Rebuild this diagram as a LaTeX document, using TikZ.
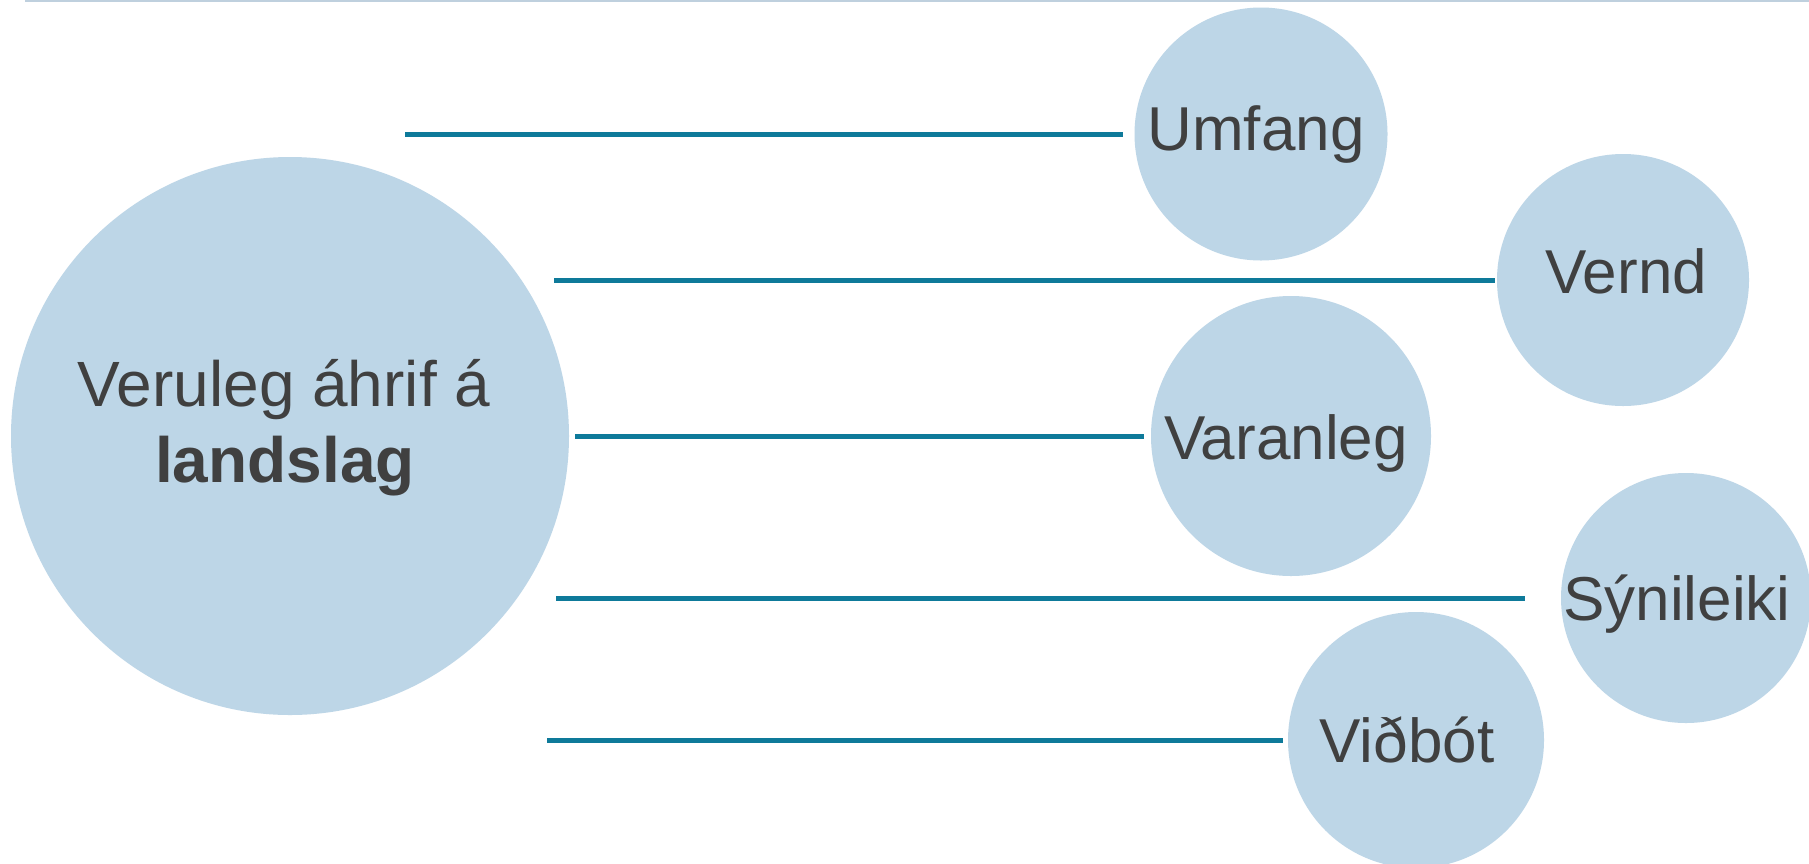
\documentclass[tikz,border=0pt]{standalone}
\usepackage{fontspec}
\setmainfont{Liberation Sans}
\definecolor{bub}{HTML}{BDD6E7}
\definecolor{ln}{HTML}{0E7A9A}
\definecolor{txt}{HTML}{404040}
\definecolor{topln}{HTML}{BFD0DE}
\begin{document}
\begin{tikzpicture}[x=1pt,y=-1pt,
  bubble/.style={circle,fill=bub,draw=none,inner sep=0pt,minimum size=#1},
  lbl/.style={text=txt,font=\fontsize{62}{74}\selectfont,inner sep=0pt,anchor=base},
  biglbl/.style={text=txt,font=\fontsize{64}{76}\selectfont,inner sep=0pt,anchor=base},
  conn/.style={draw=ln,line width=5pt}]
\useasboundingbox (0,0) rectangle (1809,863);
\fill[white] (0,0) rectangle (1809,863);
\coordinate (t0) at (25,1);
\coordinate (t1) at (1809,1);
\draw[topln,line width=2pt] (t0) -- (t1);
% big circle
\node[bubble=558pt] (main) at (290,436) {};
\node[biglbl] (maintxta) at (284,406) {Veruleg áhrif á};
\node[biglbl] (maintxtb) at (285,482) {\textbf{landslag}};
% satellites
\node[bubble=253pt] (umf) at (1261,134) {};
\node[lbl] (umft) at (1256,150) {Umfang};
\node[bubble=252pt] (ver) at (1623,280) {};
\node[lbl] (vert) at (1626,293) {Vernd};
\node[bubble=280pt] (var) at (1291,436) {};
\node[lbl] (vart) at (1286,459) {Varanleg};
\node[bubble=250pt] (syn) at (1686,598) {};
\node[lbl] (synt) at (1677,620) {Sýnileiki};
\node[bubble=256pt] (vid) at (1416,740) {};
\node[lbl] (vidt) at (1407,762) {Viðbót};
% connectors
\coordinate (s1) at (405,134);
\coordinate (s2) at (554,280);
\coordinate (s3) at (575,436);
\coordinate (s4) at (556,598);
\coordinate (s5) at (547,740);
\draw[conn,shorten >=11pt] (s1) -- (umf.west);
\draw[conn,shorten >=2pt] (s2) -- (ver.west);
\draw[conn,shorten >=7pt] (s3) -- (var.west);
\draw[conn,shorten >=36pt] (s4) -- (syn.west);
\draw[conn,shorten >=5pt] (s5) -- (vid.west);
\end{tikzpicture}
\end{document}
